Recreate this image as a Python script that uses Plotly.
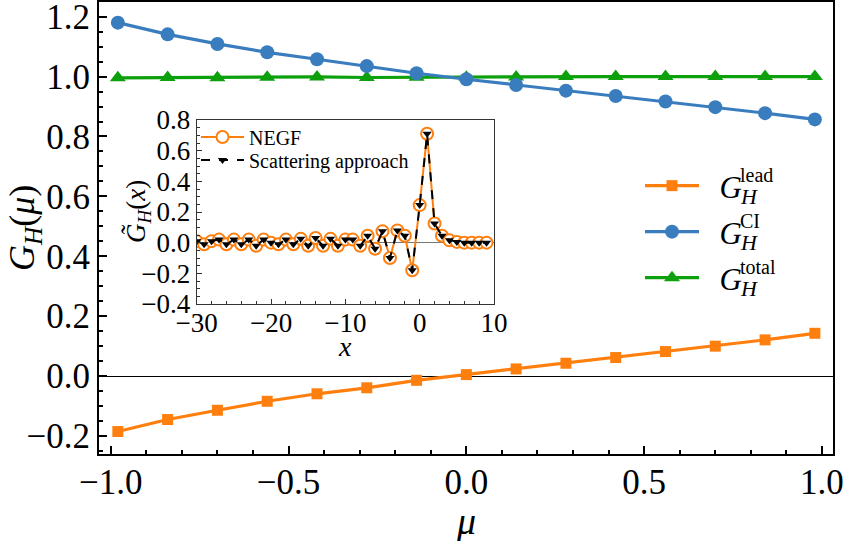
import plotly.graph_objects as go

# main panel: Hall conductance vs chemical potential
mu = [-0.98, -0.84, -0.70, -0.56, -0.42, -0.28, -0.14, 0.0,
      0.14, 0.28, 0.42, 0.56, 0.70, 0.84, 0.98]
g_lead = [-0.185, -0.145, -0.114, -0.084, -0.059, -0.039, -0.014, 0.005,
          0.024, 0.043, 0.062, 0.082, 0.100, 0.121, 0.143]
g_ci = [1.180, 1.141, 1.109, 1.081, 1.058, 1.035, 1.011, 0.991,
        0.972, 0.953, 0.935, 0.917, 0.898, 0.878, 0.857]
g_total = [0.996, 0.997, 0.996, 0.998, 0.999, 0.997, 0.998, 0.998,
           0.999, 1.000, 1.000, 1.000, 1.000, 1.000, 1.000]

# inset: real-space profile
x_site = list(range(-30, 10))
g_negf = [0.01, -0.01, 0.01, 0.02, -0.01, 0.02, -0.01, 0.02, -0.02, 0.02,
          0.0, -0.01, 0.02, -0.01, 0.025, -0.02, 0.03, -0.02, 0.025, -0.02,
          0.02, 0.02, -0.02, 0.045, -0.04, 0.075, -0.10, 0.08, 0.045, -0.18,
          0.245, 0.71, 0.125, 0.045, 0.015, 0.005, 0.0, 0.0, 0.0, 0.0]
g_scat = list(g_negf)

ORANGE = "#ff7f0e"
BLUE = "#3a7dbf"
GREEN = "#0ca00c"
FONT = "Liberation Serif, Times New Roman, serif"

W, H = 846, 541
L, R, T, B = 99, 833, 2, 454


def px(xp):
    return (xp - L) / (R - L)


def py(yp):
    return (B - yp) / (B - T)


fig = go.Figure()

fig.add_trace(go.Scatter(x=mu, y=g_lead, mode="lines+markers",
                         name="\u2002<i>G</i>",
                         line=dict(color=ORANGE, width=3.2),
                         marker=dict(symbol="square", size=11, color=ORANGE),
                         legend="legend", showlegend=True))
fig.add_trace(go.Scatter(x=mu, y=g_total, mode="lines+markers",
                         name="\u2002<i>G</i>",
                         line=dict(color=GREEN, width=3.2),
                         marker=dict(symbol="triangle-up", size=14, color=GREEN),
                         legend="legend5", showlegend=True))
fig.add_trace(go.Scatter(x=mu, y=g_ci, mode="lines+markers",
                         name="\u2002<i>G</i>",
                         line=dict(color=BLUE, width=3.2),
                         marker=dict(symbol="circle", size=14, color=BLUE),
                         legend="legend4", showlegend=True))

fig.add_trace(go.Scatter(x=x_site, y=g_negf, mode="lines+markers", name="NEGF",
                         xaxis="x2", yaxis="y2",
                         line=dict(color=ORANGE, width=2),
                         marker=dict(symbol="circle", size=12, color="white",
                                     line=dict(color=ORANGE, width=2)),
                         legend="legend2", showlegend=True))
fig.add_trace(go.Scatter(x=x_site, y=g_scat, mode="lines+markers",
                         name="Scattering approach",
                         xaxis="x2", yaxis="y2",
                         line=dict(color="black", width=2, dash="dash"),
                         marker=dict(symbol="triangle-down", size=8, color="black"),
                         legend="legend3", showlegend=True))

# vertical guide in the inset
fig.add_shape(type="line", xref="x2", yref="y2 domain", x0=1, x1=1, y0=0, y1=1,
              line=dict(color="#777", width=1), layer="below")

main_tick = dict(family=FONT, size=35, color="black")
inset_tick = dict(family=FONT, size=27, color="black")

leg_common = dict(bgcolor="rgba(0,0,0,0)", borderwidth=0, xanchor="left",
                  yanchor="middle")

fig.update_layout(
    width=W, height=H,
    margin=dict(l=L, r=W - R, t=T, b=H - B),
    paper_bgcolor="white", plot_bgcolor="white",
    font=dict(family=FONT, color="black"),
    showlegend=True,
    xaxis=dict(range=[-1.033, 1.031], tickvals=[-1.0, -0.5, 0.0, 0.5, 1.0],
               ticktext=["\u22121.0", "\u22120.5", "0.0", "0.5", "1.0"],
               ticks="inside", ticklen=8, tickwidth=1.5, tickcolor="black",
               minor=dict(ticks="inside", dtick=0.1, ticklen=4, tickwidth=1.5,
                          tickcolor="black", showgrid=False),
               showline=True, linewidth=2, linecolor="black", mirror=True,
               showgrid=False, zeroline=False, tickfont=main_tick,
               automargin=False, ticklabeloverflow="allow", ticklabelstandoff=-4),
    yaxis=dict(range=[-0.26, 1.249], tickvals=[-0.2, 0.0, 0.2, 0.4, 0.6, 0.8, 1.0, 1.2],
               ticktext=["\u22120.2", "0.0", "0.2", "0.4", "0.6", "0.8", "1.0", "1.2"],
               ticks="inside", ticklen=8, tickwidth=1.5, tickcolor="black",
               minor=dict(ticks="inside", dtick=0.05, ticklen=4, tickwidth=1.5,
                          tickcolor="black", showgrid=False),
               showline=True, linewidth=2, linecolor="black", mirror=True,
               showgrid=False, zeroline=True, zerolinecolor="black",
               zerolinewidth=1, tickfont=main_tick, automargin=False,
               ticklabeloverflow="allow"),
    xaxis2=dict(domain=[px(196.7), px(494)], anchor="y2", range=[-30, 10],
                tickvals=[-30, -20, -10, 0, 10],
                ticktext=["\u221230", "\u221220", "\u221210", "0", "10"],
                ticks="inside", ticklen=5, tickwidth=1, tickcolor="#333",
                minor=dict(ticks="inside", dtick=2, ticklen=3, tickwidth=1,
                           tickcolor="#333", showgrid=False),
                showline=True, linewidth=1, linecolor="#333", mirror=True,
                showgrid=False, zeroline=False, tickfont=inset_tick,
                automargin=False, ticklabeloverflow="allow", ticklabelstandoff=-5),
    yaxis2=dict(domain=[py(304), py(120)], anchor="x2", range=[-0.4, 0.8],
                tickvals=[-0.4, -0.2, 0.0, 0.2, 0.4, 0.6, 0.8],
                ticktext=["\u22120.4", "\u22120.2", "0.0", "0.2", "0.4", "0.6", "0.8"],
                ticks="inside", ticklen=5, tickwidth=1, tickcolor="#333",
                minor=dict(ticks="inside", dtick=0.05, ticklen=3, tickwidth=1,
                           tickcolor="#333", showgrid=False),
                showline=True, linewidth=1, linecolor="#333", mirror=True,
                showgrid=False, zeroline=True, zerolinecolor="#777",
                zerolinewidth=1, tickfont=inset_tick, automargin=False,
                ticklabeloverflow="allow"),
    legend=dict(x=px(640), y=py(186), font=dict(size=31), itemwidth=54, **leg_common),
    legend4=dict(x=px(640), y=py(232), font=dict(size=31), itemwidth=54, **leg_common),
    legend5=dict(x=px(640), y=py(278), font=dict(size=31), itemwidth=54, **leg_common),
    legend2=dict(x=px(196), y=py(137), font=dict(family=FONT, size=20), itemwidth=43,
                 **leg_common),
    legend3=dict(x=px(196), y=py(160), font=dict(family=FONT, size=20), itemwidth=43,
                 **leg_common),
)

# axis titles and stacked sub/superscripts of the legend labels
ann = [
    dict(x=px(24), y=py(228), text="<i>G</i><sub><i>H</i></sub>(<i>\u03bc</i>)",
         textangle=-90, font=dict(family=FONT, size=36)),
    dict(x=px(466), y=py(521), text="<i>\u03bc</i>", font=dict(family=FONT, size=38)),
    dict(x=px(138), y=py(212), text="<i>G\u0303</i><sub><i>H</i></sub>(<i>x</i>)",
         textangle=-90, font=dict(family=FONT, size=27)),
    dict(x=px(345), y=py(346), text="<i>x</i>", font=dict(family=FONT, size=28)),
]
labels = [("lead", 186), ("CI", 232), ("total", 278)]
for sup, yc in labels:
    ann.append(dict(x=px(738), y=py(yc - 11), text=sup, xanchor="left",
                    height=18, font=dict(family=FONT, size=20)))
    ann.append(dict(x=px(738), y=py(yc + 10), text="<i>H</i>", xanchor="left",
                    height=18, font=dict(family=FONT, size=22)))
for a in ann:
    a.update(xref="paper", yref="paper", showarrow=False)
    a.setdefault("xanchor", "center")
    a.setdefault("yanchor", "middle")
fig.update_layout(annotations=ann)

fig.write_html("out.html", config={"displayModeBar": False},
               post_script="document.body.style.margin='0';")
